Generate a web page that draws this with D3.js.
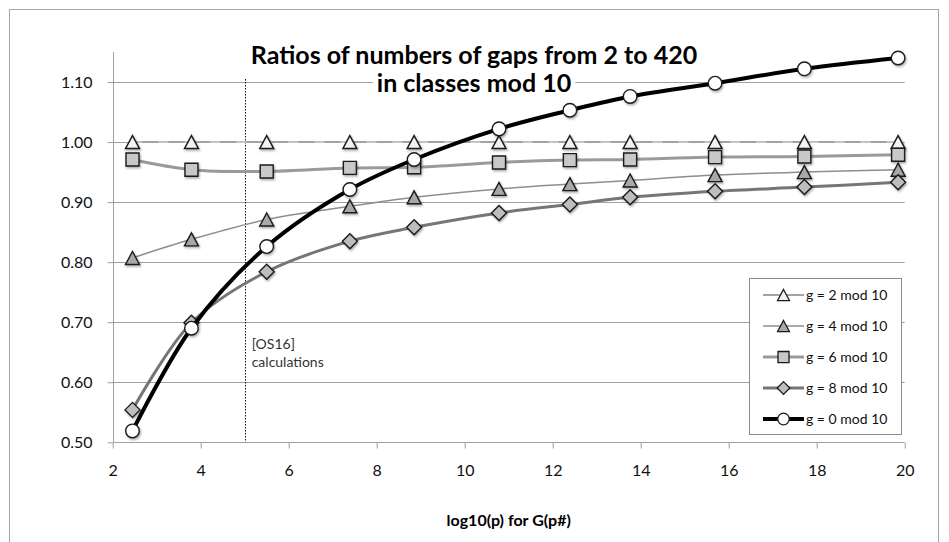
<!DOCTYPE html>
<html><head><meta charset="utf-8">
<script src="https://cdn.jsdelivr.net/npm/d3@7"></script>
<style>
html,body{margin:0;padding:0;background:#fff;}
svg{display:block;font-family:Lato,"Open Sans",sans-serif;}
</style></head>
<body>
<svg id="chart" width="949" height="542"></svg>
<script>
const xValues = [2.45, 3.79, 5.50, 7.39, 8.85, 10.78, 12.39, 13.76, 15.69, 17.72, 19.85];
const g2 = [1.000, 1.000, 1.000, 1.000, 1.000, 1.000, 1.000, 1.000, 1.000, 1.000, 1.000];
const g4 = [0.807, 0.838, 0.871, 0.893, 0.908, 0.922, 0.930, 0.936, 0.945, 0.950, 0.954];
const g6 = [0.971, 0.954, 0.951, 0.957, 0.958, 0.966, 0.970, 0.971, 0.975, 0.976, 0.979];
const g8 = [0.554, 0.699, 0.784, 0.835, 0.858, 0.882, 0.896, 0.908, 0.918, 0.925, 0.933];
const g0 = [0.519, 0.690, 0.826, 0.921, 0.971, 1.022, 1.053, 1.076, 1.098, 1.122, 1.140];
const seriesNames = ["g = 2 mod 10", "g = 4 mod 10", "g = 6 mod 10", "g = 8 mod 10", "g = 0 mod 10"];
const xTicks = [2, 4, 6, 8, 10, 12, 14, 16, 18, 20];
const yTicks = [0.5, 0.6, 0.7, 0.8, 0.9, 1.0, 1.1];
const titleLines = ["Ratios of numbers of gaps from 2 to 420", "in classes mod 10"];
const xTitle = "log10(p) for G(p#)";
const noteLines = ["[OS16]", "calculations"];
const noteX = 5;

const svg = d3.select("#chart");
const x = d3.scaleLinear().domain([2, 20]).range([112.7, 904.7]);
const y = d3.scaleLinear().domain([0.5, 1.15]).range([442.3, 52]);

const defs = svg.append("defs");
const f = defs.append("filter").attr("id","sh").attr("x","-50%").attr("y","-50%").attr("width","200%").attr("height","200%");
f.append("feDropShadow").attr("dx",1).attr("dy",1.5).attr("stdDeviation",1).attr("flood-color","#000").attr("flood-opacity",0.35);

// outer border
svg.append("rect").attr("x",9.5).attr("y",9.5).attr("width",929).attr("height",540)
  .attr("fill","#fff").attr("stroke","#a6a6a6").attr("stroke-width",1);

// gridlines
svg.append("g").selectAll("line").data(yTicks.filter(d=>d>0.5)).join("line")
  .attr("x1",x(2)).attr("x2",x(20)).attr("y1",d=>Math.round(y(d))+0.5).attr("y2",d=>Math.round(y(d))+0.5)
  .attr("stroke","#a0a0a0").attr("stroke-width",1);

// axes
const x0 = Math.round(x(2))+0.5, yb = Math.round(y(0.5))+0.5;
const xAxis = svg.append("g").attr("transform",`translate(0,${yb})`)
  .call(d3.axisBottom(x).tickValues(xTicks).tickFormat(d3.format("d")).tickSize(6).tickPadding(16));
const yAxis = svg.append("g").attr("transform",`translate(${x0},0)`)
  .call(d3.axisLeft(y).tickValues(yTicks).tickFormat(d3.format(".2f")).tickSize(6).tickPadding(15));
yAxis.select(".domain").attr("d", `M0,${yb}V${y(1.15)}`);
xAxis.select(".domain").attr("d", `M${x0},0H${x(20)}`);
[xAxis, yAxis].forEach(a=>{
  a.selectAll(".domain").attr("stroke","#a0a0a0");
  a.selectAll(".tick line").attr("stroke","#a0a0a0");
  a.selectAll("text").attr("font-size","16px").attr("fill","#111").attr("font-family","Lato, sans-serif");
});

// dotted vertical line
svg.append("line").attr("x1",Math.round(x(noteX))+0.5).attr("x2",Math.round(x(noteX))+0.5)
  .attr("y1",y(1.105)).attr("y2",y(0.5)).attr("stroke","#111").attr("stroke-width",1).attr("stroke-dasharray","1.5,1.5");
svg.append("text").attr("x",x(noteX)+7).attr("y",349).attr("font-size","14px").attr("fill","#333")
  .selectAll("tspan").data(noteLines).join("tspan").attr("x",x(noteX)+7).attr("dy",(d,i)=>i?18:0).text(d=>d);

// title with white background box
const tg = svg.append("g");
const tt = tg.append("text").attr("text-anchor","middle").attr("font-weight","bold").attr("font-size","25px").attr("fill","#000");
tt.selectAll("tspan").data(titleLines).join("tspan").attr("x",474).attr("y",(d,i)=>64+i*28).text(d=>d);
tt.selectAll("tspan").each(function(){
  const b = this.getBBox();
  tg.insert("rect","text").attr("x",b.x-4).attr("y",b.y+3).attr("width",b.width+8).attr("height",b.height-3).attr("fill","#fff");
});

// series definitions
const series = [
  {name:seriesNames[0], vals:g2, color:"#a3a3a3", width:2, marker:"tri", fill:"#f2f2f2"},
  {name:seriesNames[1], vals:g4, color:"#8e8e8e", width:1.5, marker:"tri", fill:"#a8a8a8"},
  {name:seriesNames[2], vals:g6, color:"#9a9a9a", width:3, marker:"sq", fill:"#c8c8c8"},
  {name:seriesNames[3], vals:g8, color:"#767676", width:3, marker:"dia", fill:"#bdbdbd"},
  {name:seriesNames[4], vals:g0, color:"#000000", width:4, marker:"circ", fill:"#ffffff"}
];
function markerPath(m, k){
  k = k || 1;
  if(m==="tri"){ const h=13*k, w=14*k; return `M0,${-h/2}L${w/2},${h/2}L${-w/2},${h/2}Z`; }
  if(m==="sq"){ const s=13*k; return `M${-s/2},${-s/2}h${s}v${s}h${-s}Z`; }
  if(m==="dia"){ const r=7.5*k; return `M0,${-r}L${r},0L0,${r}L${-r},0Z`; }
  const r=6.8*k; return `M${r},0A${r},${r},0,1,1,${-r},0A${r},${r},0,1,1,${r},0Z`;
}

const line = d3.line().x(d=>x(d[0])).y(d=>y(d[1])).curve(d3.curveCatmullRom.alpha(0.5));

const plot = svg.append("g");
series.forEach((s,si)=>{
  const pts = xValues.map((xv,i)=>[xv, s.vals[i]]);
  const g = plot.append("g");
  g.append("path").attr("d",line(pts)).attr("fill","none").attr("stroke",s.color)
    .attr("stroke-width",s.width).attr("stroke-linejoin","round");
  if(si===0){
    g.append("path").attr("d",line(pts)).attr("fill","none").attr("stroke","#e4e4e4")
      .attr("stroke-width",1).attr("stroke-dasharray","10,16");
  }
  g.selectAll("path.m").data(pts).join("path").attr("class","m")
    .attr("transform",d=>`translate(${x(d[0])},${y(d[1])})`)
    .attr("d",markerPath(s.marker)).attr("fill",s.fill).attr("stroke","#1a1a1a").attr("stroke-width",1.4)
    .attr("filter","url(#sh)");
});

// x axis title
svg.append("text").attr("x",x(11)).attr("y",526).attr("text-anchor","middle").attr("font-weight","bold")
  .attr("font-size","16px").attr("fill","#000").text(xTitle);

// legend
const lg = svg.append("g");
lg.append("rect").attr("x",749.5).attr("y",278.5).attr("width",152).attr("height",156)
  .attr("fill","#fff").attr("stroke","#8c8c8c");
series.forEach((s,i)=>{
  const cy = 295 + i*31;
  const e = lg.append("g");
  e.append("line").attr("x1",763).attr("x2",804).attr("y1",cy).attr("y2",cy)
    .attr("stroke",s.color).attr("stroke-width",s.width);
  e.append("path").attr("transform",`translate(783.5,${cy})`)
    .attr("d",markerPath(s.marker,0.85))
    .attr("fill",s.fill).attr("stroke","#1a1a1a").attr("stroke-width",1.3);
  e.append("text").attr("x",806).attr("y",cy+5).attr("font-size","14px").attr("fill","#111").text(s.name);
});
</script>
</body></html>
